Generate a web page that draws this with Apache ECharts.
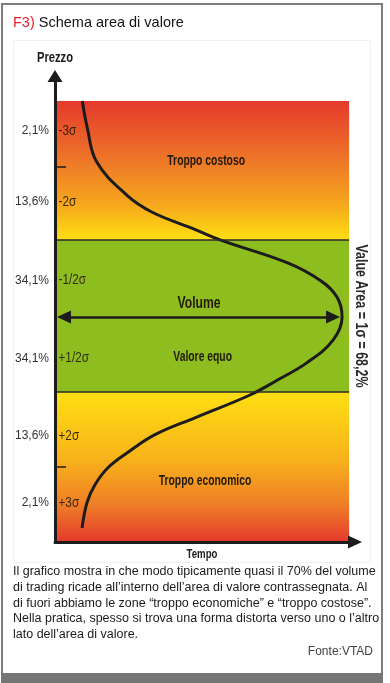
<!DOCTYPE html>
<html>
<head>
<meta charset="utf-8">
<script src="https://cdn.jsdelivr.net/npm/echarts@6/dist/echarts.min.js"></script>
<style>
html,body{margin:0;padding:0;background:#fff;}
#chart{width:390px;height:683px;}
</style>
</head>
<body>
<div id="chart"></div>
<script>
// ---- data ----
// price scale in sigma-like units: +3 = top of the band area, -3 = bottom
const zoneEdges = [3, 2.10, 1.11, 0.06, -0.96, -1.98, -3];           // band boundaries, top -> bottom
const bandShare = ['2,1%', '13,6%', '34,1%', '34,1%', '13,6%', '2,1%'];
const bandSigma = ['-3σ', '-2σ', '-1/2σ', '+1/2σ', '+2σ', '+3σ'];
const bandLabelLevel = [2.59, 1.63, 0.56, -0.50, -1.56, -2.47];
const zoneNames = ['Troppo costoso', 'Volume', 'Valore equo', 'Troppo economico'];
// volume profile curve (x = volume 0..100, y = price level)
const curveVolume = [9.3, 11.0, 14.2, 24.4, 32.9, 46.5, 56.1, 78.9, 90.1, 95.9, 97.6, 94.6, 85.7, 75.5, 66.3, 47.6, 34.0, 24.8, 18.0, 13.6, 10.9, 9.2];
const curvePrice  = [3.0, 2.63, 2.17, 1.72, 1.49, 1.27, 1.11, 0.80, 0.56, 0.33, 0.06, -0.25, -0.56, -0.80, -1.0, -1.31, -1.54, -1.78, -1.99, -2.22, -2.46, -2.81];
const valueAreaText = 'Value Area = 1σ = 68,2%';
const axisNames = ['Tempo', 'Prezzo'];

// ---- layout ----
const W = 390, H = 683;
const gridLeft = 55, gridRight = 35, gridTop = 76, gridBottom = 141;
const xMin = 0, xMax = 102, bandXMax = 100;
const yMin = -3, yMax = 3.34;
const ppuX = (W - gridLeft - gridRight) / (xMax - xMin);
const SANS = "'Liberation Sans',Arial,Helvetica,sans-serif";
const INK = '#1c1c1c';

const curveData = curveVolume.map((v, i) => [v, curvePrice[i]]);
let peakIdx = 0;
curveVolume.forEach((v, i) => { if (v > curveVolume[peakIdx]) peakIdx = i; });
const peakX = curveVolume[peakIdx], peakY = curvePrice[peakIdx];
const headHalf = 7;

function nearestIdx(arr, v) {
  let b = 0; arr.forEach((a, i) => { if (Math.abs(a - v) < Math.abs(arr[b] - v)) b = i; }); return b;
}

const grad = (c) => new echarts.graphic.LinearGradient(0, 0, 0, 1, [
  {offset: 0, color: c[0]}, {offset: 0.45, color: c[1]}, {offset: 0.75, color: c[2]}, {offset: 1, color: c[3]}
]);
const redToYellow = ['#e5392c', '#ee7a27', '#f6a81d', '#fedf12'];
const yellowToRed = ['#fedf12', '#f8b21b', '#ef7e27', '#e5392c'];

const chart = echarts.init(document.getElementById('chart'), null, {renderer: 'canvas'});
const baseGraphics = [
  {id: 'panel', type: 'rect', z: -10, shape: {x: 13.5, y: 40.5, width: 357, height: 522}, style: {fill: '#ffffff', stroke: '#f0f0f0', lineWidth: 1}},
  {id: 'frame', type: 'rect', z: -9, shape: {x: 2, y: 4, width: 380, height: 676}, style: {fill: 'none', stroke: '#7d7d7d', lineWidth: 2}},
  {id: 'bar', type: 'rect', z: -8, shape: {x: 1, y: 673, width: 382, height: 10}, style: {fill: '#757575'}}
];
const option = {
  animation: false,
  backgroundColor: '#ffffff',
  graphic: {elements: baseGraphics},
  title: [
    {text: '{r|F3)} Schema area di valore', left: 13, top: 15, padding: 0,
     textStyle: {fontFamily: SANS, fontSize: 14.5, fontWeight: 'normal', color: '#141414',
       rich: {r: {fontFamily: SANS, fontSize: 14.5, color: '#e3232a'}}}},
    {text: 'Il grafico mostra in che modo tipicamente quasi il 70% del volume\n' +
           'di trading ricade all\u2019interno dell\u2019area di valore contrassegnata. Al\n' +
           'di fuori abbiamo le zone \u201ctroppo economiche\u201d e \u201ctroppo costose\u201d.\n' +
           'Nella pratica, spesso si trova una forma distorta verso uno o l\u2019altro\n' +
           'lato dell\u2019area di valore.',
     left: 13, top: 564, padding: 0,
     textStyle: {fontFamily: SANS, fontSize: 12.5, fontWeight: 'normal', color: '#1a1a1a', lineHeight: 15.7}},
    {text: 'Fonte:VTAD', right: 17, top: 646, padding: 0,
     textStyle: {fontFamily: SANS, fontSize: 12, fontWeight: 'normal', color: '#444'}}
  ],
  grid: {left: gridLeft, right: gridRight, top: gridTop, bottom: gridBottom, containLabel: false},
  xAxis: {
    type: 'value', min: xMin, max: xMax, z: 10,
    axisLine: {show: true, onZero: false, symbol: ['none', 'triangle'], symbolSize: [13, 14],
               lineStyle: {color: INK, width: 3}},
    axisTick: {show: false}, axisLabel: {show: false}, splitLine: {show: false}
  },
  yAxis: {
    type: 'value', min: yMin, max: yMax, position: 'left', z: 10,
    axisLine: {show: true, onZero: false, symbol: ['none', 'triangle'], symbolSize: [15, 12],
               lineStyle: {color: INK, width: 3}},
    axisTick: {show: true, inside: true, length: 11, customValues: [zoneEdges[1], zoneEdges[5]],
               lineStyle: {color: INK, width: 1.5}},
    axisLabel: {show: true, margin: 6, customValues: bandLabelLevel,
                formatter: v => bandShare[nearestIdx(bandLabelLevel, v)],
                fontFamily: SANS, fontSize: 12, color: '#333'},
    splitLine: {show: false}
  },
  series: [
    {
      name: 'zones', type: 'line', data: [], z: 1, silent: true,
      markArea: {
        silent: true,
        data: [
          [{coord: [0, zoneEdges[0]], itemStyle: {color: grad(redToYellow)}}, {coord: [bandXMax, zoneEdges[2]]}],
          [{coord: [0, zoneEdges[2]], itemStyle: {color: '#8ebd1f'}}, {coord: [bandXMax, zoneEdges[4]]}],
          [{coord: [0, zoneEdges[4]], itemStyle: {color: grad(yellowToRed)}}, {coord: [bandXMax, zoneEdges[6]]}]
        ]
      },
      markLine: {
        silent: true, symbol: 'none', label: {show: false},
        lineStyle: {color: '#2a2a2a', width: 1.5, type: 'solid'},
        data: [
          [{coord: [0, zoneEdges[2]]}, {coord: [bandXMax, zoneEdges[2]]}],
          [{coord: [0, zoneEdges[4]]}, {coord: [bandXMax, zoneEdges[4]]}]
        ]
      }
    },
    {
      name: 'curve', type: 'line', data: curveData, z: 3, smooth: 0.4, showSymbol: false, silent: true,
      lineStyle: {color: INK, width: 3},
      markLine: {
        silent: true, symbol: ['triangle', 'triangle'], symbolSize: [13, 14], label: {show: false},
        lineStyle: {color: INK, width: 2.5, type: 'solid'},
        data: [[{coord: [xMin + (2 + headHalf) / ppuX, peakY]}, {coord: [peakX - (2 + headHalf) / ppuX, peakY]}]]
      }
    }
  ]
};
chart.setOption(option);

// ---- condensed text labels, placed from data coordinates ----
const toPx = (x, y) => chart.convertToPixel({gridIndex: 0}, [x, y]);
function condText(id, text, pt, o) {
  return {
    id: id, type: 'text', z: 50, x: pt[0], y: pt[1],
    scaleX: o.scaleX || 0.74, rotation: o.rotation || 0, silent: true,
    style: {text: text, x: 0, y: 0, fill: o.color || '#231a0c',
            font: (o.weight || 'bold') + ' ' + (o.size || 14) + 'px ' + SANS,
            align: o.align || 'center', verticalAlign: 'middle'}
  };
}
const labelSpots = [[51.4, 2.18], [49.0, 0.25], [50.2, -0.48], [51.0, -2.17]];
const extra = [];
zoneNames.forEach((n, i) => {
  extra.push(condText('zone' + i, n, toPx(labelSpots[i][0], labelSpots[i][1]),
    {size: i === 1 ? 16 : 15, scaleX: i === 1 ? 0.76 : 0.69}));
});
bandSigma.forEach((s, i) => {
  const p = toPx(xMin, bandLabelLevel[i]);
  extra.push(condText('sig' + i, s, [p[0] + 3.5, p[1]],
    {weight: 'normal', size: 14, scaleX: 0.84, align: 'left', color: 'rgba(35,25,8,0.88)'}));
});
const vaMid = toPx(bandXMax, (zoneEdges[2] + zoneEdges[4]) / 2);
extra.push(condText('va', valueAreaText, [vaMid[0] + 11, vaMid[1]],
  {size: 16, scaleX: 0.78, rotation: -Math.PI / 2, color: '#2a2a2a'}));
const yTop = toPx(xMin, yMax);
extra.push(condText('yname', axisNames[1], [yTop[0], yTop[1] - 18], {size: 14, scaleX: 0.8, color: INK}));
const xMid = toPx((xMin + xMax) / 2, yMin);
extra.push(condText('xname', axisNames[0], [xMid[0] - 3, xMid[1] + 12], {size: 13, scaleX: 0.74, color: INK}));

chart.setOption({graphic: {elements: baseGraphics.concat(extra)}});
</script>
</body>
</html>
